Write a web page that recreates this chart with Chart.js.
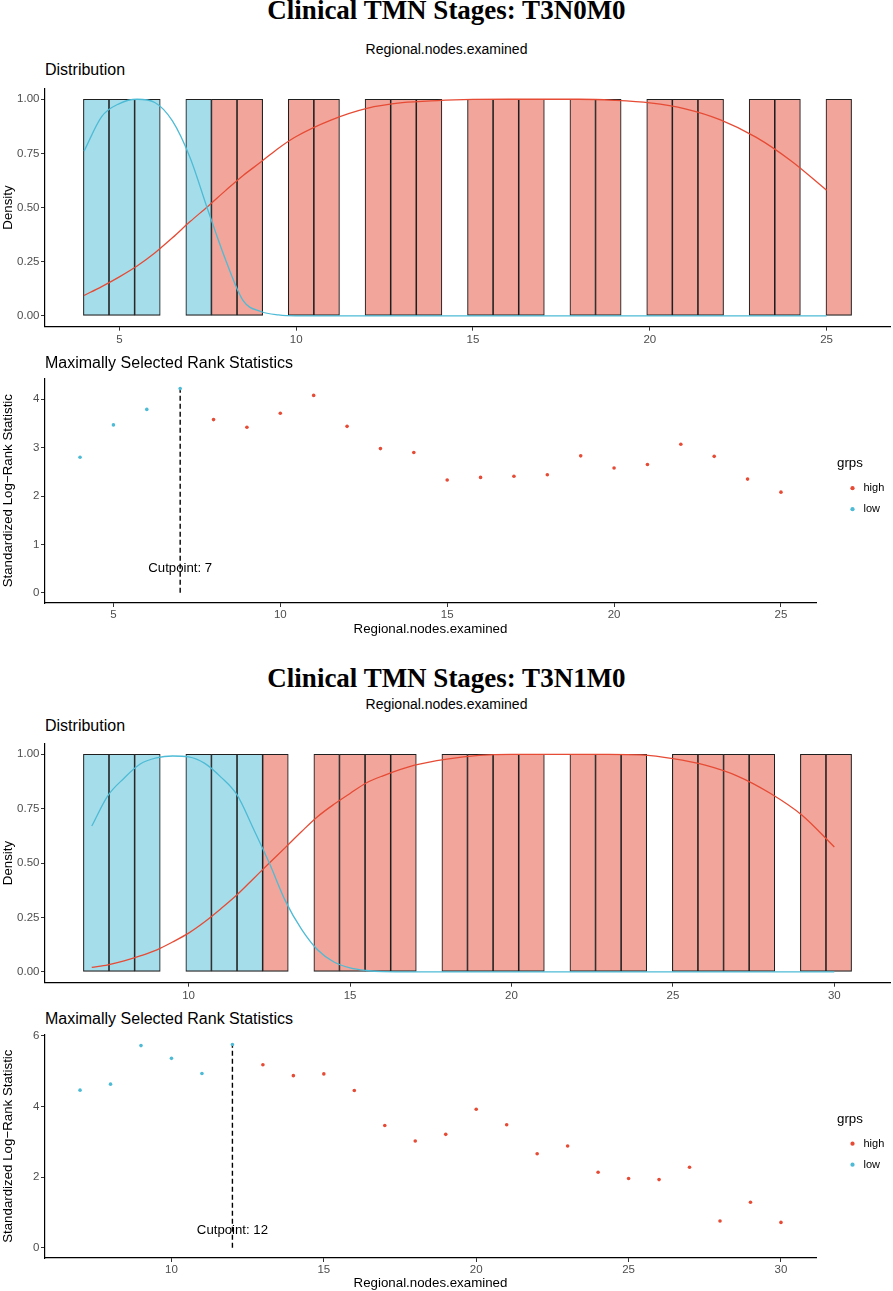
<!DOCTYPE html>
<html>
<head>
<meta charset="utf-8">
<script src="https://cdn.jsdelivr.net/npm/chart.js@4.4.0/dist/chart.umd.min.js"></script>
<style>
  body { margin: 0; background: #fff; }
  #page { position: relative; width: 893px; height: 1291px; overflow: hidden; font-family: "Liberation Sans", Arial, sans-serif; }
  .title { position: absolute; left: 0; width: 893px; text-align: center; font-family: "Liberation Serif", "Times New Roman", serif; font-weight: bold; font-size: 27px; line-height: 27px; white-space: nowrap; }
  .sub { position: absolute; left: 0; width: 893px; text-align: center; font-size: 14px; line-height: 14px; }
  .panel { position: absolute; left: 45px; font-size: 16px; line-height: 16px; white-space: nowrap; }
  canvas { position: absolute; left: 0; }
</style>
</head>
<body>
<div id="page">
  <div class="title" style="top:-3px">Clinical TMN Stages: T3N0M0</div>
  <div class="sub" style="top:42px">Regional.nodes.examined</div>
  <div class="panel" style="top:62px">Distribution</div>
  <canvas id="dist1" width="893" height="275" style="top:80px"></canvas>
  <div class="panel" style="top:355px">Maximally Selected Rank Statistics</div>
  <canvas id="rank1" width="893" height="267" style="top:370px"></canvas>

  <div class="title" style="top:665px">Clinical TMN Stages: T3N1M0</div>
  <div class="sub" style="top:697px">Regional.nodes.examined</div>
  <div class="panel" style="top:718px">Distribution</div>
  <canvas id="dist2" width="893" height="275" style="top:735px"></canvas>
  <div class="panel" style="top:1011px">Maximally Selected Rank Statistics</div>
  <canvas id="rank2" width="893" height="265" style="top:1026px"></canvas>
</div>
<script>
// ---- data ----
// T3N0M0
const nodes1 = [4,5,6,7,8,9,10,11,12,13,14,15,16,17,18,19,20,21,22,23,24,25];
const stat1 = [2.80,3.47,3.79,4.22,3.58,3.42,3.71,4.08,3.44,2.98,2.90,2.33,2.385,2.41,2.44,2.83,2.58,2.65,3.07,2.82,2.35,2.08];
const cut1 = 7;
const curveX1 = [4,4.5,5,5.5,6,6.5,7,7.5,8,8.5,9,9.5,10,11,12,13,14,15,16,17,18,19,20,21,22,23,24,25];
const lowDens1 = [0.76,0.92,0.98,1.0,0.985,0.90,0.73,0.49,0.26,0.07,0.02,0.004,0,0,0,0,0,0,0,0,0,0,0,0,0,0,0,0];
const highDens1 = [0.094,0.135,0.18,0.23,0.29,0.36,0.435,0.505,0.578,0.648,0.71,0.774,0.828,0.905,0.958,0.984,0.994,0.999,1,1,1,0.995,0.983,0.956,0.905,0.825,0.715,0.58];
const xTicks1 = [5,10,15,20,25];
const yTicksRank1 = [0,1,2,3,4];

// T3N1M0
const nodes2 = [7,8,9,10,11,12,13,14,15,16,17,18,19,20,21,22,23,24,25,26,27,28,29,30];
const stat2 = [4.46,4.63,5.72,5.36,4.93,5.75,5.18,4.87,4.92,4.45,3.46,3.02,3.21,3.92,3.48,2.66,2.88,2.14,1.96,1.93,2.28,0.76,1.29,0.72];
const cut2 = 12;
const curveX2 = [7,7.5,8,8.5,9,9.5,10,10.5,11,11.5,12,12.5,13,13.5,14,14.5,15,15.5,16,17,18,19,20,21,22,23,24,25,26,27,28,29,30];
const lowDens2 = [0.67,0.81,0.89,0.955,0.983,0.992,0.988,0.958,0.895,0.813,0.66,0.50,0.325,0.195,0.10,0.045,0.018,0.006,0.001,0,0,0,0,0,0,0,0,0,0,0,0,0,0];
const highDens2 = [0.02,0.032,0.05,0.073,0.10,0.137,0.178,0.23,0.29,0.354,0.427,0.50,0.572,0.645,0.714,0.77,0.82,0.868,0.90,0.95,0.978,0.995,1,1,1,1,0.997,0.98,0.95,0.90,0.822,0.72,0.574];
const xTicks2 = [10,15,20,25,30];
const yTicksRank2 = [0,2,4,6];

const densTicks = [0,0.25,0.5,0.75,1];

// ---- styling ----
const RED = '#E64B35', BLUE = '#4DBBD5';
const RED_FILL = '#F2A59A', BLUE_FILL = '#A6DDEA';
Chart.defaults.font.family = '"Liberation Sans", Arial, sans-serif';
Chart.defaults.color = '#4D4D4D';
Chart.defaults.animation = false;

// ggplot-like histogram: 30 bins, width = range/29, boundary = width/2
function histBins(values, cut, nbins) {
  const lo = Math.min(...values), hi = Math.max(...values);
  const width = (hi - lo) / (nbins - 1);
  const boundary = width / 2;
  const origin = boundary + Math.floor((lo - boundary) / width) * width;
  const counts = new Array(nbins).fill(0);
  const low = new Array(nbins).fill(false);
  values.forEach(v => {
    const k = Math.min(nbins - 1, Math.floor((v - origin) / width));
    counts[k]++;
    if (v <= cut) low[k] = true;
  });
  const maxCount = Math.max(...counts);
  const bars = [], colors = [];
  counts.forEach((c, k) => {
    if (c > 0) {
      bars.push({ x: origin + (k + 0.5) * width, y: c / maxCount });
      colors.push(low[k] ? BLUE_FILL : RED_FILL);
    }
  });
  return { bars, colors, lo: origin, hi: origin + nbins * width };
}

function expand(lo, hi) {
  const d = (hi - lo) * 0.05;
  return [lo - d, hi + d];
}

function axisStyle() {
  return {
    border: { display: true, color: '#000', width: 1.2 },
    grid: { display: true, offset: false, drawOnChartArea: false, drawTicks: true, tickLength: 4, tickColor: '#333', color: '#333' },
  };
}

function distChart(id, values, cut, xs, lowD, highD, xTicks, areaTop, xAxisH) {
  const h = histBins(values, cut, 30);
  const xr = expand(h.lo, h.hi);
  const pts = ys => xs.map((x, i) => ({ x: x, y: ys[i] }));
  new Chart(document.getElementById(id), {
    type: 'bar',
    data: {
      datasets: [
        { type: 'line', data: pts(lowD), borderColor: BLUE, borderWidth: 1.3, pointRadius: 0, cubicInterpolationMode: 'monotone', order: 0 },
        { type: 'line', data: pts(highD), borderColor: RED, borderWidth: 1.3, pointRadius: 0, cubicInterpolationMode: 'monotone', order: 1 },
        { type: 'bar', data: h.bars, backgroundColor: h.colors, borderColor: '#1f1f1f', borderWidth: 1.1, borderSkipped: false, categoryPercentage: 1, barPercentage: 1, order: 2 }
      ]
    },
    options: {
      responsive: false,
      layout: { padding: { top: areaTop, right: 3, left: 0, bottom: 0 } },
      plugins: { legend: { display: false }, tooltip: { enabled: false } },
      scales: {
        x: Object.assign(axisStyle(), {
          type: 'linear', min: xr[0], max: xr[1], offset: false,
          afterBuildTicks: s => { s.ticks = xTicks.map(v => ({ value: v })); },
          afterFit: s => { s.height = xAxisH; },
          ticks: { font: { size: 11.5 }, padding: 2, maxRotation: 0, autoSkip: false }
        }),
        y: Object.assign(axisStyle(), {
          min: -0.05, max: 1.05,
          afterBuildTicks: s => { s.ticks = densTicks.map(v => ({ value: v })); },
          afterFit: s => { s.width = 45; },
          ticks: { font: { size: 11.5 }, padding: 1.5, callback: v => v.toFixed(2) },
          title: { display: true, text: 'Density', color: '#000', font: { size: 13.3 }, padding: 0 }
        })
      }
    }
  });
}

const cutLabel = {
  id: 'cutLabel',
  beforeDatasetsDraw(chart, args, opts) {
    const { ctx, scales: { x, y } } = chart;
    ctx.save();
    ctx.font = '13.2px "Liberation Sans", Arial, sans-serif';
    ctx.fillStyle = '#000';
    ctx.textAlign = 'center';
    ctx.textBaseline = 'middle';
    ctx.fillText('Cutpoint: ' + opts.cut, x.getPixelForValue(opts.cut), y.getPixelForValue(0.5));
    ctx.restore();
  }
};

// push the legend a little away from the panel, as ggplot does
const legendGap = {
  id: 'legendGap',
  afterLayout(chart, args, opts) {
    const lg = chart.legend;
    if (lg) { lg.left += opts.gap; lg.right += opts.gap; }
  }
};

function rankChart(id, values, stats, cut, xTicks, yTicks, areaTop, xAxisH) {
  const high = [], low = [];
  values.forEach((v, i) => (v <= cut ? low : high).push({ x: v, y: stats[i] }));
  const xr = expand(Math.min(...values), Math.max(...values));
  const yr = expand(0, Math.max(...stats));
  const cutStat = stats[values.indexOf(cut)];
  new Chart(document.getElementById(id), {
    type: 'scatter',
    data: {
      datasets: [
        { label: 'high', data: high, backgroundColor: RED, borderColor: RED, pointRadius: 1.8, borderWidth: 0 },
        { label: 'low', data: low, backgroundColor: BLUE, borderColor: BLUE, pointRadius: 1.8, borderWidth: 0 },
        { type: 'line', label: 'cut', data: [{ x: cut, y: 0 }, { x: cut, y: cutStat }], borderColor: '#000', borderWidth: 1.4, borderDash: [5, 3], pointRadius: 0 }
      ]
    },
    options: {
      responsive: false,
      layout: { padding: { top: areaTop, right: 19.7, left: 0, bottom: 0 } },
      plugins: {
        tooltip: { enabled: false },
        cutLabel: { cut: cut },
        legendGap: { gap: 21 },
        legend: {
          position: 'right', fullSize: false, align: 'center',
          title: { display: true, text: 'grps', position: 'start', color: '#000', font: { size: 13.3 } },
          labels: {
            color: '#000', font: { size: 11 }, usePointStyle: true, pointStyle: 'circle',
            boxWidth: 11, boxHeight: 3, padding: 10,
            filter: item => item.datasetIndex < 2
          }
        }
      },
      scales: {
        x: Object.assign(axisStyle(), {
          type: 'linear', min: xr[0], max: xr[1],
          afterBuildTicks: s => { s.ticks = xTicks.map(v => ({ value: v })); },
          afterFit: s => { s.height = xAxisH; },
          ticks: { font: { size: 11.5 }, padding: 1, maxRotation: 0, autoSkip: false },
          title: { display: true, text: 'Regional.nodes.examined', color: '#000', font: { size: 13.3 }, padding: 0 }
        }),
        y: Object.assign(axisStyle(), {
          min: yr[0], max: yr[1],
          afterBuildTicks: s => { s.ticks = yTicks.map(v => ({ value: v })); },
          afterFit: s => { s.width = 45; },
          ticks: { font: { size: 11.5 }, padding: 1.5 },
          title: { display: true, text: 'Standardized Log\u2212Rank Statistic', color: '#000', font: { size: 13.3 }, padding: 0 }
        })
      }
    },
    plugins: [cutLabel, legendGap]
  });
}

distChart('dist1', nodes1, cut1, curveX1, lowDens1, highDens1, xTicks1, 5.75, 28.35);
rankChart('rank1', nodes1, stat1, cut1, xTicks1, yTicksRank1, 8, 34);
distChart('dist2', nodes2, cut2, curveX2, lowDens2, highDens2, xTicks2, 6.3, 27.3);
rankChart('rank2', nodes2, stat2, cut2, xTicks2, yTicksRank2, 8, 33);
</script>
</body>
</html>
